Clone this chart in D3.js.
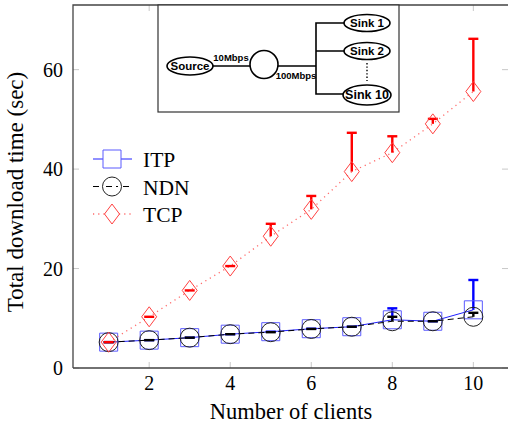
<!DOCTYPE html>
<html>
<head>
<meta charset="utf-8">
<script src="https://cdn.jsdelivr.net/npm/d3@7"></script>
<style>
	body { margin: 0; background: #fff; }
	svg { display: block; }
	text { font-family: 'Liberation Serif', 'Times New Roman', serif; }
	.inset text { font-family: 'Liberation Sans', Arial, sans-serif; font-weight: bold; }
</style>
</head>
<body>
<svg id="svg" width="508" height="426"></svg>
<script>
// data
const clients = [1, 2, 3, 4, 5, 6, 7, 8, 9, 10];
const itpMean = [5.2, 5.6, 6.1, 6.8, 7.3, 7.9, 8.3, 9.7, 9.4, 11.7];
const itpErr = [0, 0, 0, 0, 0, 0, 0, 2.3, 0, 6.0];
const ndnMean = [5.2, 5.6, 6.1, 6.8, 7.2, 7.85, 8.3, 9.4, 9.4, 10.3];
const ndnErr = [0, 0, 0, 0, 0, 0, 0, 0.9, 0, 0.8];
const tcpMean = [5.2, 10.3, 15.6, 20.5, 26.5, 31.9, 39.5, 43.3, 49.1, 55.6];
const tcpErr = [0, 0, 0, 0, 2.5, 2.7, 7.8, 3.3, 1.0, 10.6];
const xTicks = [2, 4, 6, 8, 10];
const yTicks = [0, 20, 40, 60];
const seriesNames = ['ITP', 'NDN', 'TCP'];

function handleData() {
	const margin = { top: 5, right: 0, bottom: 58, left: 73 };
	const width = 508 - margin.left - margin.right;
	const height = 426 - margin.top - margin.bottom;

	const xscale = d3.scaleLinear().domain([0.12, 10.88]).range([margin.left, margin.left + width + 1]);
	const yscale = d3.scaleLinear().domain([0, 73]).range([margin.top + height, margin.top]);

	const svg = d3.select('#svg');

	// grey inner ticks on all four sides
	const tickG = svg.append('g').attr('stroke', '#c8c8c8').attr('stroke-width', 1);
	xTicks.forEach((t) => {
		tickG.append('line').attr('x1', xscale(t)).attr('x2', xscale(t))
			.attr('y1', yscale(0)).attr('y2', yscale(0) - 6);
		tickG.append('line').attr('x1', xscale(t)).attr('x2', xscale(t))
			.attr('y1', margin.top).attr('y2', margin.top + 6);
	});
	yTicks.forEach((t) => {
		tickG.append('line').attr('x1', margin.left).attr('x2', margin.left + 6)
			.attr('y1', yscale(t)).attr('y2', yscale(t));
		tickG.append('line').attr('x1', 508).attr('x2', 502)
			.attr('y1', yscale(t)).attr('y2', yscale(t));
	});

	// axis frame
	svg.append('path')
		.attr('d', `M${margin.left},${yscale(0)}V${margin.top}H509M${margin.left},${yscale(0)}H509`)
		.attr('fill', 'none').attr('stroke', '#444').attr('stroke-width', 1.3);

	// tick labels
	svg.append('g').selectAll('text').data(xTicks).enter().append('text')
		.attr('x', (d) => xscale(d)).attr('y', 390)
		.attr('text-anchor', 'middle').attr('font-size', 20)
		.text((d) => d);
	svg.append('g').selectAll('text').data(yTicks).enter().append('text')
		.attr('x', 63).attr('y', (d) => yscale(d) + 7)
		.attr('text-anchor', 'end').attr('font-size', 20)
		.text((d) => d);

	// axis titles
	svg.append('text').attr('x', xscale(5.5)).attr('y', 419)
		.attr('text-anchor', 'middle').attr('font-size', 22.5)
		.text('Number of clients');
	svg.append('text').attr('transform', 'translate(23,192) rotate(-90)')
		.attr('text-anchor', 'middle').attr('font-size', 23)
		.text('Total download time (sec)');

	const line = d3.line().x((d) => xscale(d[0])).y((d) => yscale(d[1]));
	const zip = (m) => clients.map((c, i) => [c, m[i]]);

	const series = [
		{ mean: itpMean, err: itpErr, line: '#2020ff', mark: '#5a5aff', errCol: '#0000ff', dash: null, lw: 1 },
		{ mean: ndnMean, err: ndnErr, line: '#000', mark: '#222', errCol: '#000', dash: '6,4', lw: 1 },
		{ mean: tcpMean, err: tcpErr, line: '#ff6a6a', mark: '#ff4040', errCol: '#ff0000', dash: '1.2,4', lw: 1.3 }
	];

	const markerPath = (k) => {
		if (k === 0) return 'M-9,-9H9V9H-9Z';
		if (k === 1) return d3.arc()({ innerRadius: 0, outerRadius: 9.5, startAngle: 0, endAngle: 2 * Math.PI });
		return 'M0,-10L7.5,0L0,10L-7.5,0Z';
	};

	series.forEach((s, k) => {
		const g = svg.append('g');
		g.append('path').datum(zip(s.mean)).attr('d', line)
			.attr('fill', 'none').attr('stroke', s.line).attr('stroke-width', s.lw)
			.attr('stroke-dasharray', s.dash);
		// upper error bars
		const eb = g.append('g').attr('stroke', s.errCol).attr('stroke-width', 2.4);
		clients.forEach((c, i) => {
			const x = xscale(c);
			const y0 = yscale(s.mean[i]);
			const y1 = yscale(s.mean[i] + s.err[i]);
			eb.append('line').attr('x1', x).attr('x2', x).attr('y1', y0).attr('y2', y1);
			eb.append('line').attr('x1', x - 5).attr('x2', x + 5).attr('y1', y1).attr('y2', y1);
		});
		g.append('g').selectAll('path').data(zip(s.mean)).enter().append('path')
			.attr('transform', (d) => `translate(${xscale(d[0])},${yscale(d[1])})`)
			.attr('d', markerPath(k))
			.attr('fill', 'none').attr('stroke', s.mark).attr('stroke-width', 1);
	});

	// legend
	const legend = svg.append('g');
	seriesNames.forEach((n, k) => {
		const s = series[k];
		const y = 159 + k * 27.5;
		legend.append('line').attr('x1', 93).attr('x2', 132).attr('y1', y).attr('y2', y)
			.attr('stroke', s.line).attr('stroke-width', s.lw).attr('stroke-dasharray', s.dash);
		legend.append('path').attr('transform', `translate(112,${y})`).attr('d', markerPath(k))
			.attr('fill', '#fff').attr('stroke', s.mark).attr('stroke-width', 1);
		if (k === 1) {
			legend.append('line').attr('x1', 106).attr('x2', 118).attr('y1', y).attr('y2', y)
				.attr('stroke', '#000').attr('stroke-width', 1).attr('stroke-dasharray', '6,4');
		}
		legend.append('text').attr('x', 143).attr('y', y + 8).attr('font-size', 21.5).text(n);
	});

	// topology inset
	const inset = svg.append('g').attr('class', 'inset');
	inset.append('rect').attr('x', 158).attr('y', 5).attr('width', 241).attr('height', 107)
		.attr('fill', '#fff').attr('stroke', '#333').attr('stroke-width', 1.2);
	const ink = inset.append('g').attr('stroke', '#000').attr('stroke-width', 1.6).attr('fill', 'none');
	ink.append('line').attr('x1', 212).attr('x2', 250).attr('y1', 66).attr('y2', 66);
	ink.append('line').attr('x1', 278).attr('x2', 316).attr('y1', 66).attr('y2', 66);
	ink.append('path').attr('d', 'M345,23H316V94H345M316,51H345');
	ink.append('circle').attr('cx', 264).attr('cy', 64.5).attr('r', 14).attr('fill', '#fff');
	ink.append('line').attr('x1', 367).attr('x2', 367).attr('y1', 63).attr('y2', 81)
		.attr('stroke-width', 1.4).attr('stroke-dasharray', '1.4,2');
	const nodes = [
		{ label: 'Source', cx: 190, cy: 66, rx: 23, ry: 9 },
		{ label: 'Sink 1', cx: 367, cy: 23, rx: 23, ry: 8.5 },
		{ label: 'Sink 2', cx: 367, cy: 51, rx: 23, ry: 8.5 },
		{ label: 'Sink 10', cx: 367, cy: 95, rx: 24, ry: 10 }
	];
	nodes.forEach((n) => {
		ink.append('ellipse').attr('cx', n.cx).attr('cy', n.cy).attr('rx', n.rx).attr('ry', n.ry)
			.attr('fill', '#fff');
		inset.append('text').attr('x', n.cx).attr('y', n.cy + 4.2).attr('text-anchor', 'middle')
			.attr('font-size', n.label === 'Sink 10' ? 12.5 : 11.5).text(n.label);
	});
	inset.append('text').attr('x', 231).attr('y', 61).attr('text-anchor', 'middle')
		.attr('font-size', 9.5).text('10Mbps');
	inset.append('text').attr('x', 296).attr('y', 79).attr('text-anchor', 'middle')
		.attr('font-size', 9.5).text('100Mbps');
}

handleData();
</script>
</body>
</html>
